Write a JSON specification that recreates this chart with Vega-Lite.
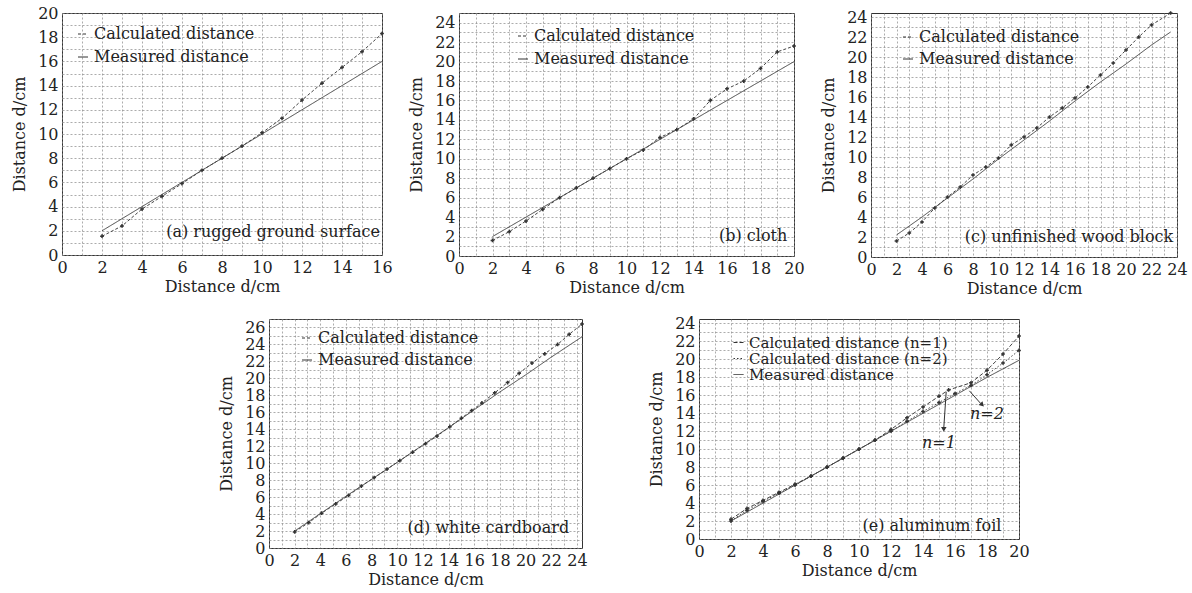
{
  "$schema": "https://vega.github.io/schema/vega-lite/v6.json",
  "padding": {"left": 11, "top": 4, "right": 0, "bottom": 0},
  "background": "white",
  "datasets": {
    "a": [
      {"x": 2, "y": 2, "s": "Measured distance"}, {"x": 3, "y": 3, "s": "Measured distance"}, {"x": 4, "y": 4, "s": "Measured distance"}, {"x": 5, "y": 5, "s": "Measured distance"}, {"x": 6, "y": 6, "s": "Measured distance"}, {"x": 7, "y": 7, "s": "Measured distance"}, {"x": 8, "y": 8, "s": "Measured distance"}, {"x": 9, "y": 9, "s": "Measured distance"}, {"x": 10, "y": 10, "s": "Measured distance"}, {"x": 11, "y": 11, "s": "Measured distance"}, {"x": 12, "y": 12, "s": "Measured distance"}, {"x": 13, "y": 13, "s": "Measured distance"}, {"x": 14, "y": 14, "s": "Measured distance"}, {"x": 15, "y": 15, "s": "Measured distance"}, {"x": 16, "y": 16, "s": "Measured distance"},
      {"x": 2, "y": 1.55, "s": "Calculated distance"}, {"x": 3, "y": 2.4, "s": "Calculated distance"}, {"x": 4, "y": 3.8, "s": "Calculated distance"}, {"x": 5, "y": 4.85, "s": "Calculated distance"}, {"x": 6, "y": 5.9, "s": "Calculated distance"}, {"x": 7, "y": 7.0, "s": "Calculated distance"}, {"x": 8, "y": 8.0, "s": "Calculated distance"}, {"x": 9, "y": 9.0, "s": "Calculated distance"}, {"x": 10, "y": 10.1, "s": "Calculated distance"}, {"x": 11, "y": 11.3, "s": "Calculated distance"}, {"x": 12, "y": 12.8, "s": "Calculated distance"}, {"x": 13, "y": 14.2, "s": "Calculated distance"}, {"x": 14, "y": 15.5, "s": "Calculated distance"}, {"x": 15, "y": 16.8, "s": "Calculated distance"}, {"x": 16, "y": 18.3, "s": "Calculated distance"}
    ],
    "b": [
      {"x": 2, "y": 2, "s": "Measured distance"}, {"x": 4, "y": 4, "s": "Measured distance"}, {"x": 6, "y": 6, "s": "Measured distance"}, {"x": 8, "y": 8, "s": "Measured distance"}, {"x": 10, "y": 10, "s": "Measured distance"}, {"x": 12, "y": 12, "s": "Measured distance"}, {"x": 14, "y": 14, "s": "Measured distance"}, {"x": 16, "y": 16, "s": "Measured distance"}, {"x": 18, "y": 18, "s": "Measured distance"}, {"x": 20, "y": 20, "s": "Measured distance"},
      {"x": 2, "y": 1.6, "s": "Calculated distance"}, {"x": 3, "y": 2.5, "s": "Calculated distance"}, {"x": 4, "y": 3.6, "s": "Calculated distance"}, {"x": 5, "y": 4.8, "s": "Calculated distance"}, {"x": 6, "y": 6.0, "s": "Calculated distance"}, {"x": 7, "y": 7.0, "s": "Calculated distance"}, {"x": 8, "y": 8.0, "s": "Calculated distance"}, {"x": 9, "y": 9.0, "s": "Calculated distance"}, {"x": 10, "y": 10.0, "s": "Calculated distance"}, {"x": 11, "y": 10.9, "s": "Calculated distance"}, {"x": 12, "y": 12.2, "s": "Calculated distance"}, {"x": 13, "y": 13.0, "s": "Calculated distance"}, {"x": 14, "y": 14.1, "s": "Calculated distance"}, {"x": 15, "y": 16.0, "s": "Calculated distance"}, {"x": 16, "y": 17.2, "s": "Calculated distance"}, {"x": 17, "y": 18.0, "s": "Calculated distance"}, {"x": 18, "y": 19.3, "s": "Calculated distance"}, {"x": 19, "y": 21.0, "s": "Calculated distance"}, {"x": 20, "y": 21.6, "s": "Calculated distance"}
    ],
    "c": [
      {"x": 2, "y": 2.2, "s": "Measured distance"}, {"x": 4, "y": 4.0, "s": "Measured distance"}, {"x": 6, "y": 5.9, "s": "Measured distance"}, {"x": 8, "y": 7.8, "s": "Measured distance"}, {"x": 10, "y": 9.8, "s": "Measured distance"}, {"x": 12, "y": 11.7, "s": "Measured distance"}, {"x": 14, "y": 13.6, "s": "Measured distance"}, {"x": 16, "y": 15.6, "s": "Measured distance"}, {"x": 18, "y": 17.5, "s": "Measured distance"}, {"x": 20, "y": 19.3, "s": "Measured distance"}, {"x": 22, "y": 21.2, "s": "Measured distance"}, {"x": 23.5, "y": 22.5, "s": "Measured distance"},
      {"x": 2, "y": 1.6, "s": "Calculated distance"}, {"x": 3, "y": 2.4, "s": "Calculated distance"}, {"x": 4, "y": 3.5, "s": "Calculated distance"}, {"x": 5, "y": 4.9, "s": "Calculated distance"}, {"x": 6, "y": 6.0, "s": "Calculated distance"}, {"x": 7, "y": 7.0, "s": "Calculated distance"}, {"x": 8, "y": 8.2, "s": "Calculated distance"}, {"x": 9, "y": 9.0, "s": "Calculated distance"}, {"x": 10, "y": 9.9, "s": "Calculated distance"}, {"x": 11, "y": 11.2, "s": "Calculated distance"}, {"x": 12, "y": 12.0, "s": "Calculated distance"}, {"x": 13, "y": 12.9, "s": "Calculated distance"}, {"x": 14, "y": 14.0, "s": "Calculated distance"}, {"x": 15, "y": 14.9, "s": "Calculated distance"}, {"x": 16, "y": 15.9, "s": "Calculated distance"}, {"x": 17, "y": 17.0, "s": "Calculated distance"}, {"x": 18, "y": 18.2, "s": "Calculated distance"}, {"x": 19, "y": 19.4, "s": "Calculated distance"}, {"x": 20, "y": 20.7, "s": "Calculated distance"}, {"x": 21, "y": 22.0, "s": "Calculated distance"}, {"x": 22, "y": 23.2, "s": "Calculated distance"}, {"x": 23.5, "y": 24.4, "s": "Calculated distance"}
    ],
    "d": [
      {"x": 2, "y": 2.0, "s": "Measured distance"}, {"x": 6, "y": 6.1, "s": "Measured distance"}, {"x": 10, "y": 10.1, "s": "Measured distance"}, {"x": 14, "y": 14.2, "s": "Measured distance"}, {"x": 16, "y": 16.3, "s": "Measured distance"}, {"x": 18, "y": 18.4, "s": "Measured distance"}, {"x": 20, "y": 20.4, "s": "Measured distance"}, {"x": 22, "y": 22.5, "s": "Measured distance"}, {"x": 24.4, "y": 24.9, "s": "Measured distance"},
      {"x": 2, "y": 1.9, "s": "Calculated distance"}, {"x": 3.1, "y": 3.0, "s": "Calculated distance"}, {"x": 4.1, "y": 4.1, "s": "Calculated distance"}, {"x": 5.2, "y": 5.2, "s": "Calculated distance"}, {"x": 6.2, "y": 6.2, "s": "Calculated distance"}, {"x": 7.2, "y": 7.3, "s": "Calculated distance"}, {"x": 8.2, "y": 8.3, "s": "Calculated distance"}, {"x": 9.2, "y": 9.3, "s": "Calculated distance"}, {"x": 10.2, "y": 10.3, "s": "Calculated distance"}, {"x": 11.2, "y": 11.3, "s": "Calculated distance"}, {"x": 12.2, "y": 12.3, "s": "Calculated distance"}, {"x": 13.1, "y": 13.2, "s": "Calculated distance"}, {"x": 14.1, "y": 14.3, "s": "Calculated distance"}, {"x": 15.0, "y": 15.3, "s": "Calculated distance"}, {"x": 15.8, "y": 16.2, "s": "Calculated distance"}, {"x": 16.6, "y": 17.1, "s": "Calculated distance"}, {"x": 17.6, "y": 18.3, "s": "Calculated distance"}, {"x": 18.6, "y": 19.5, "s": "Calculated distance"}, {"x": 19.5, "y": 20.6, "s": "Calculated distance"}, {"x": 20.5, "y": 21.8, "s": "Calculated distance"}, {"x": 21.5, "y": 22.9, "s": "Calculated distance"}, {"x": 22.5, "y": 24.0, "s": "Calculated distance"}, {"x": 23.4, "y": 25.2, "s": "Calculated distance"}, {"x": 24.4, "y": 26.4, "s": "Calculated distance"}
    ],
    "e": [
      {"x": 2, "y": 2, "s": "Measured distance"}, {"x": 4, "y": 4, "s": "Measured distance"}, {"x": 6, "y": 6, "s": "Measured distance"}, {"x": 8, "y": 8, "s": "Measured distance"}, {"x": 10, "y": 10, "s": "Measured distance"}, {"x": 12, "y": 12, "s": "Measured distance"}, {"x": 14, "y": 14, "s": "Measured distance"}, {"x": 16, "y": 16, "s": "Measured distance"}, {"x": 18, "y": 18, "s": "Measured distance"}, {"x": 20, "y": 19.9, "s": "Measured distance"},
      {"x": 2, "y": 2.2, "s": "Calculated distance (n=1)"}, {"x": 3, "y": 3.4, "s": "Calculated distance (n=1)"}, {"x": 4, "y": 4.3, "s": "Calculated distance (n=1)"}, {"x": 5, "y": 5.2, "s": "Calculated distance (n=1)"}, {"x": 6, "y": 6.1, "s": "Calculated distance (n=1)"}, {"x": 7, "y": 7.0, "s": "Calculated distance (n=1)"}, {"x": 8, "y": 8.0, "s": "Calculated distance (n=1)"}, {"x": 9, "y": 9.0, "s": "Calculated distance (n=1)"}, {"x": 10, "y": 10.0, "s": "Calculated distance (n=1)"}, {"x": 11, "y": 11.0, "s": "Calculated distance (n=1)"}, {"x": 12, "y": 12.2, "s": "Calculated distance (n=1)"}, {"x": 13, "y": 13.5, "s": "Calculated distance (n=1)"}, {"x": 14, "y": 14.7, "s": "Calculated distance (n=1)"}, {"x": 15, "y": 15.9, "s": "Calculated distance (n=1)"}, {"x": 15.6, "y": 16.6, "s": "Calculated distance (n=1)"}, {"x": 17, "y": 17.4, "s": "Calculated distance (n=1)"}, {"x": 18, "y": 18.8, "s": "Calculated distance (n=1)"}, {"x": 19, "y": 20.6, "s": "Calculated distance (n=1)"}, {"x": 20, "y": 22.6, "s": "Calculated distance (n=1)"},
      {"x": 2, "y": 2.0, "s": "Calculated distance (n=2)"}, {"x": 3, "y": 3.2, "s": "Calculated distance (n=2)"}, {"x": 4, "y": 4.2, "s": "Calculated distance (n=2)"}, {"x": 5, "y": 5.1, "s": "Calculated distance (n=2)"}, {"x": 6, "y": 6.0, "s": "Calculated distance (n=2)"}, {"x": 7, "y": 7.0, "s": "Calculated distance (n=2)"}, {"x": 8, "y": 8.0, "s": "Calculated distance (n=2)"}, {"x": 9, "y": 9.0, "s": "Calculated distance (n=2)"}, {"x": 10, "y": 10.0, "s": "Calculated distance (n=2)"}, {"x": 11, "y": 11.0, "s": "Calculated distance (n=2)"}, {"x": 12, "y": 12.0, "s": "Calculated distance (n=2)"}, {"x": 13, "y": 13.1, "s": "Calculated distance (n=2)"}, {"x": 14, "y": 14.2, "s": "Calculated distance (n=2)"}, {"x": 15, "y": 15.2, "s": "Calculated distance (n=2)"}, {"x": 16, "y": 16.2, "s": "Calculated distance (n=2)"}, {"x": 17, "y": 17.1, "s": "Calculated distance (n=2)"}, {"x": 18, "y": 18.3, "s": "Calculated distance (n=2)"}, {"x": 19, "y": 19.6, "s": "Calculated distance (n=2)"}, {"x": 20, "y": 21.0, "s": "Calculated distance (n=2)"}
    ]
  },
  "config": {
    "font": "DejaVu Serif",
    "view": {"stroke": "#333", "strokeWidth": 1},
    "axis": {
      "labelFont": "DejaVu Serif", "labelFontSize": 16, "labelColor": "#222",
      "titleFont": "DejaVu Serif", "titleFontSize": 16, "titleFontWeight": "normal", "titleColor": "#222",
      "domain": false, "ticks": false, "grid": true, "gridColor": "#888", "gridDash": [2, 2], "gridWidth": 0.7,
      "labelPadding": 4, "titlePadding": 3, "labelOverlap": false, "labelFlush": false, "tickCount": 200,
      "format": "d",
      "labelExpr": "datum.value % 2 === 0 ? datum.label : ''"
    },
    "axisY": {"titlePadding": 10, "labelPadding": 4},
    "legend": {
      "labelFont": "DejaVu Serif", "labelFontSize": 16, "labelColor": "#222", "symbolType": "stroke",
      "symbolSize": 100, "symbolStrokeWidth": 1.2, "symbolStrokeColor": "#333", "labelOffset": 3,
      "rowPadding": 7, "padding": 0, "orient": "none", "labelLimit": 400
    },
    "line": {"color": "#444", "strokeWidth": 1},
    "point": {"color": "#333", "shape": "cross", "size": 14, "filled": true, "opacity": 1}
  },
  "spacing": 13,
  "vconcat": [
    {
      "spacing": 15,
      "resolve": {"scale": {"x": "independent", "y": "independent", "strokeDash": "independent"}, "legend": {"strokeDash": "independent"}},
      "hconcat": [
        {
          "width": 320, "height": 242,
          "data": {"name": "a"},
          "layer": [
            {
              "mark": {"type": "line"},
              "encoding": {
                "x": {"field": "x", "type": "quantitative", "scale": {"domain": [0, 16], "nice": false}, "axis": {"title": "Distance d/cm", "values": [0,1,2,3,4,5,6,7,8,9,10,11,12,13,14,15,16]}},
                "y": {"field": "y", "type": "quantitative", "scale": {"domain": [0, 20], "nice": false}, "axis": {"title": "Distance d/cm", "values": [0,1,2,3,4,5,6,7,8,9,10,11,12,13,14,15,16,17,18,19,20]}},
                "strokeDash": {"field": "s", "type": "nominal", "scale": {"domain": ["Calculated distance", "Measured distance"], "range": [[3, 2], [1, 0]]}, "legend": {"title": null, "legendX": 13, "legendY": 13}}
              }
            },
            {
              "transform": [{"filter": "datum.s !== 'Measured distance'"}],
              "mark": {"type": "point"},
              "encoding": {"x": {"field": "x", "type": "quantitative"}, "y": {"field": "y", "type": "quantitative"}}
            },
            {
              "data": {"values": [{}]},
              "mark": {"type": "text", "align": "right", "baseline": "middle", "font": "DejaVu Serif", "fontSize": 16, "color": "#222"},
              "encoding": {"x": {"datum": 15.9}, "y": {"datum": 1.9}, "text": {"value": "(a) rugged ground surface"}}
            }
          ]
        },
        {
          "width": 335, "height": 243,
          "data": {"name": "b"},
          "layer": [
            {
              "mark": {"type": "line"},
              "encoding": {
                "x": {"field": "x", "type": "quantitative", "scale": {"domain": [0, 20], "nice": false}, "axis": {"title": "Distance d/cm", "values": [0,1,2,3,4,5,6,7,8,9,10,11,12,13,14,15,16,17,18,19,20]}},
                "y": {"field": "y", "type": "quantitative", "scale": {"domain": [0, 25], "nice": false}, "axis": {"title": "Distance d/cm", "values": [0,1,2,3,4,5,6,7,8,9,10,11,12,13,14,15,16,17,18,19,20,21,22,23,24,25]}},
                "strokeDash": {"field": "s", "type": "nominal", "scale": {"domain": ["Calculated distance", "Measured distance"], "range": [[3, 2], [1, 0]]}, "legend": {"title": null, "legendX": 56, "legendY": 15}}
              }
            },
            {
              "transform": [{"filter": "datum.s !== 'Measured distance'"}],
              "mark": {"type": "point"},
              "encoding": {"x": {"field": "x", "type": "quantitative"}, "y": {"field": "y", "type": "quantitative"}}
            },
            {
              "data": {"values": [{}]},
              "mark": {"type": "text", "align": "right", "baseline": "middle", "font": "DejaVu Serif", "fontSize": 16, "color": "#222"},
              "encoding": {"x": {"datum": 19.6}, "y": {"datum": 2.1}, "text": {"value": "(b) cloth"}}
            }
          ]
        },
        {
          "width": 306, "height": 244,
          "data": {"name": "c"},
          "layer": [
            {
              "mark": {"type": "line"},
              "encoding": {
                "x": {"field": "x", "type": "quantitative", "scale": {"domain": [0, 24], "nice": false}, "axis": {"title": "Distance d/cm", "values": [0,1,2,3,4,5,6,7,8,9,10,11,12,13,14,15,16,17,18,19,20,21,22,23,24]}},
                "y": {"field": "y", "type": "quantitative", "scale": {"domain": [0, 24.4], "nice": false}, "axis": {"title": "Distance d/cm", "values": [0,1,2,3,4,5,6,7,8,9,10,11,12,13,14,15,16,17,18,19,20,21,22,23,24]}},
                "strokeDash": {"field": "s", "type": "nominal", "scale": {"domain": ["Calculated distance", "Measured distance"], "range": [[3, 2], [1, 0]]}, "legend": {"title": null, "legendX": 29, "legendY": 16, "rowPadding": 6}}
              }
            },
            {
              "transform": [{"filter": "datum.s !== 'Measured distance'"}],
              "mark": {"type": "point"},
              "encoding": {"x": {"field": "x", "type": "quantitative"}, "y": {"field": "y", "type": "quantitative"}}
            },
            {
              "data": {"values": [{}]},
              "mark": {"type": "text", "align": "right", "baseline": "middle", "font": "DejaVu Serif", "fontSize": 16, "color": "#222"},
              "encoding": {"x": {"datum": 23.7}, "y": {"datum": 2.0}, "text": {"value": "(c) unfinished wood block"}}
            }
          ]
        }
      ]
    },
    {
      "spacing": 60,
      "resolve": {"scale": {"x": "independent", "y": "independent", "strokeDash": "independent"}, "legend": {"strokeDash": "independent"}},
      "hconcat": [
        {
          "width": 96, "height": 10,
          "view": {"stroke": null},
          "data": {"values": [{}]},
          "mark": {"type": "text", "text": ""}
        },
        {
          "width": 313, "height": 229,
          "data": {"name": "d"},
          "layer": [
            {
              "mark": {"type": "line"},
              "encoding": {
                "x": {"field": "x", "type": "quantitative", "scale": {"domain": [0, 24.4], "nice": false}, "axis": {"title": "Distance d/cm", "values": [0,1,2,3,4,5,6,7,8,9,10,11,12,13,14,15,16,17,18,19,20,21,22,23,24]}},
                "y": {"field": "y", "type": "quantitative", "scale": {"domain": [0, 27], "nice": false}, "axis": {"title": "Distance d/cm", "values": [0,1,2,3,4,5,6,7,8,9,10,11,12,13,14,15,16,17,18,19,20,21,22,23,24,25,26,27]}},
                "strokeDash": {"field": "s", "type": "nominal", "scale": {"domain": ["Calculated distance", "Measured distance"], "range": [[3, 2], [1, 0]]}, "legend": {"title": null, "legendX": 30, "legendY": 11, "rowPadding": 6}}
              }
            },
            {
              "transform": [{"filter": "datum.s !== 'Measured distance'"}],
              "mark": {"type": "point"},
              "encoding": {"x": {"field": "x", "type": "quantitative"}, "y": {"field": "y", "type": "quantitative"}}
            },
            {
              "data": {"values": [{}]},
              "mark": {"type": "text", "align": "right", "baseline": "middle", "font": "DejaVu Serif", "fontSize": 16, "color": "#222"},
              "encoding": {"x": {"datum": 23.4}, "y": {"datum": 2.4}, "text": {"value": "(d) white cardboard"}}
            }
          ]
        },
        {
          "width": 320, "height": 220,
          "data": {"name": "e"},
          "layer": [
            {
              "mark": {"type": "line"},
              "encoding": {
                "x": {"field": "x", "type": "quantitative", "scale": {"domain": [0, 20], "nice": false}, "axis": {"title": "Distance d/cm", "values": [0,1,2,3,4,5,6,7,8,9,10,11,12,13,14,15,16,17,18,19,20]}},
                "y": {"field": "y", "type": "quantitative", "scale": {"domain": [0, 24.5], "nice": false}, "axis": {"title": "Distance d/cm", "values": [0,1,2,3,4,5,6,7,8,9,10,11,12,13,14,15,16,17,18,19,20,21,22,23,24]}},
                "strokeDash": {"field": "s", "type": "nominal", "scale": {"domain": ["Calculated distance (n=1)", "Calculated distance (n=2)", "Measured distance"], "range": [[4, 2], [1.5, 2], [1, 0]]}, "legend": {"title": null, "legendX": 32, "legendY": 16, "rowPadding": 0, "labelFontSize": 15}}
              }
            },
            {
              "transform": [{"filter": "datum.s !== 'Measured distance'"}],
              "mark": {"type": "point"},
              "encoding": {"x": {"field": "x", "type": "quantitative"}, "y": {"field": "y", "type": "quantitative"}}
            },
            {
              "data": {"values": [{}]},
              "mark": {"type": "rule", "color": "#333", "strokeWidth": 1},
              "encoding": {"x": {"datum": 15.45}, "y": {"datum": 16.4}, "x2": {"datum": 15.3}, "y2": {"datum": 12.4}}
            },
            {
              "data": {"values": [{}]},
              "mark": {"type": "point", "shape": "triangle-down", "size": 30, "filled": true, "color": "#333"},
              "encoding": {"x": {"datum": 15.3}, "y": {"datum": 12.2}}
            },
            {
              "data": {"values": [{}]},
              "mark": {"type": "rule", "color": "#333", "strokeWidth": 1},
              "encoding": {"x": {"datum": 16.9}, "y": {"datum": 16.5}, "x2": {"datum": 17.6}, "y2": {"datum": 15.1}}
            },
            {
              "data": {"values": [{}]},
              "mark": {"type": "point", "shape": "triangle-up", "angle": 135, "size": 30, "filled": true, "color": "#333"},
              "encoding": {"x": {"datum": 17.7}, "y": {"datum": 14.95}}
            },
            {
              "data": {"values": [{}]},
              "mark": {"type": "text", "align": "center", "baseline": "middle", "font": "DejaVu Serif", "fontSize": 16, "fontStyle": "italic", "color": "#222"},
              "encoding": {"x": {"datum": 15.0}, "y": {"datum": 10.7}, "text": {"value": "n=1"}}
            },
            {
              "data": {"values": [{}]},
              "mark": {"type": "text", "align": "center", "baseline": "middle", "font": "DejaVu Serif", "fontSize": 16, "fontStyle": "italic", "color": "#222"},
              "encoding": {"x": {"datum": 18.0}, "y": {"datum": 13.9}, "text": {"value": "n=2"}}
            },
            {
              "data": {"values": [{}]},
              "mark": {"type": "text", "align": "right", "baseline": "middle", "font": "DejaVu Serif", "fontSize": 16, "color": "#222"},
              "encoding": {"x": {"datum": 18.9}, "y": {"datum": 1.4}, "text": {"value": "(e) aluminum foil"}}
            }
          ]
        }
      ]
    }
  ]
}
